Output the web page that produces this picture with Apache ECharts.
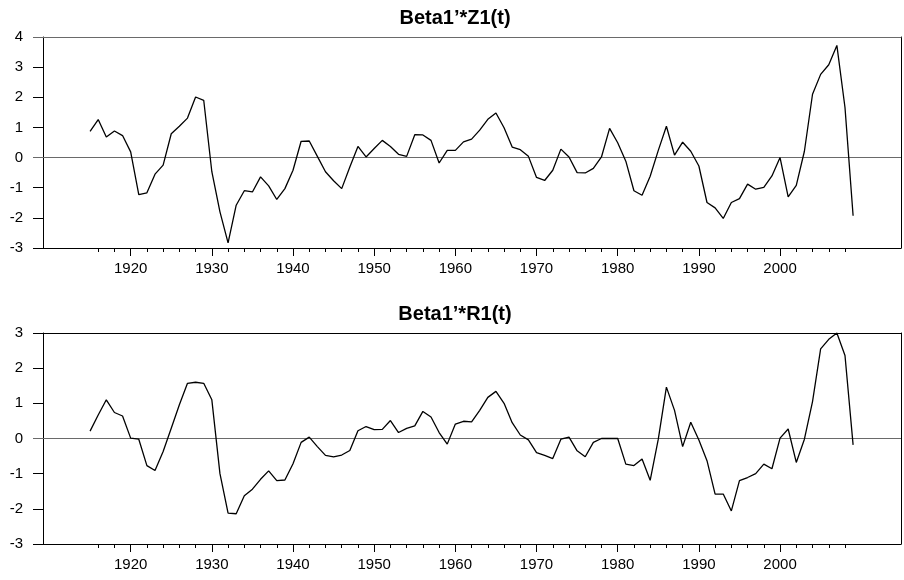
<!DOCTYPE html>
<html>
<head>
<meta charset="utf-8">
<script src="https://cdn.jsdelivr.net/npm/echarts@6/dist/echarts.min.js"></script>
<style>
  html, body { margin: 0; padding: 0; background: #fff; }
  #chart { width: 904px; height: 580px; }
</style>
</head>
<body>
<div id="chart"></div>
<script>
// Years of the two series
const years = [
  1915, 1916, 1917, 1918, 1919, 1920, 1921, 1922, 1923, 1924,
  1925, 1926, 1927, 1928, 1929, 1930, 1931, 1932, 1933, 1934,
  1935, 1936, 1937, 1938, 1939, 1940, 1941, 1942, 1943, 1944,
  1945, 1946, 1947, 1948, 1949, 1950, 1951, 1952, 1953, 1954,
  1955, 1956, 1957, 1958, 1959, 1960, 1961, 1962, 1963, 1964,
  1965, 1966, 1967, 1968, 1969, 1970, 1971, 1972, 1973, 1974,
  1975, 1976, 1977, 1978, 1979, 1980, 1981, 1982, 1983, 1984,
  1985, 1986, 1987, 1988, 1989, 1990, 1991, 1992, 1993, 1994,
  1995, 1996, 1997, 1998, 1999, 2000, 2001, 2002, 2003, 2004,
  2005, 2006, 2007, 2008, 2009
];

// Beta1'*Z1(t)
const z1Values = [
   0.87,  1.26,  0.68,  0.88,  0.73,  0.19, -1.23, -1.17, -0.55, -0.25,
   0.79,  1.04,  1.31,  2.01,  1.90, -0.47, -1.80, -2.83, -1.58, -1.10,
  -1.14, -0.64, -0.94, -1.39, -1.03, -0.42,  0.54,  0.55,  0.04, -0.47,
  -0.77, -1.03, -0.31,  0.37,  0.02,  0.30,  0.57,  0.37,  0.11,  0.04,
   0.76,  0.75,  0.57, -0.18,  0.24,  0.24,  0.52,  0.61,  0.91,  1.27,
   1.48,  0.99,  0.35,  0.26,  0.04, -0.66, -0.76, -0.42,  0.28,  0.02,
  -0.50, -0.51, -0.36,  0.02,  0.97,  0.49, -0.12, -1.10, -1.25, -0.62,
   0.24,  1.04,  0.08,  0.51,  0.21, -0.28, -1.49, -1.67, -2.02, -1.49,
  -1.36, -0.88, -1.05, -0.99, -0.61,  0.00, -1.30, -0.92,  0.21,  2.10,
   2.76,  3.08,  3.72,  1.66, -1.93
];

// Beta1'*R1(t)
const r1Values = [
   0.21,  0.67,  1.10,  0.74,  0.64,  0.01, -0.02, -0.77, -0.91, -0.37,
   0.29,  0.96,  1.57,  1.60,  1.57,  1.10, -1.00, -2.12, -2.14, -1.63,
  -1.44, -1.16, -0.92, -1.20, -1.18, -0.72, -0.11,  0.04, -0.23, -0.48,
  -0.52, -0.47, -0.34,  0.22,  0.34,  0.25,  0.26,  0.51,  0.17,  0.29,
   0.36,  0.77,  0.61,  0.17, -0.16,  0.41,  0.49,  0.47,  0.80,  1.17,
   1.34,  1.00,  0.45,  0.10, -0.04, -0.40, -0.48, -0.57, -0.02,  0.04,
  -0.35, -0.52, -0.11,  0.00,  0.00,  0.00, -0.73, -0.77, -0.58, -1.19,
  -0.02,  1.46,  0.80, -0.23,  0.46, -0.04, -0.63, -1.58, -1.58, -2.06,
  -1.20, -1.11, -1.00, -0.73, -0.86,  0.01,  0.27, -0.68, -0.02,  1.05,
   2.55,  2.82,  3.00,  2.36, -0.18
];

// Axis ticks and labels
const minorTickYears = [
  1916, 1918, 1920, 1922, 1924, 1926, 1928, 1930, 1932, 1934,
  1936, 1938, 1940, 1942, 1944, 1946, 1948, 1950, 1952, 1954,
  1956, 1958, 1960, 1962, 1964, 1966, 1968, 1970, 1972, 1974,
  1976, 1978, 1980, 1982, 1984, 1986, 1988, 1990, 1992, 1994,
  1996, 1998, 2000, 2002, 2004, 2006, 2008
];
const labelYears = [1920, 1930, 1940, 1950, 1960, 1970, 1980, 1990, 2000];
const topYRange = [-3, 4];
const bottomYRange = [-3, 3];
const titles = ['Beta1\u2019*Z1(t)', 'Beta1\u2019*R1(t)'];

const FONT = 'Liberation Sans, Arial, Helvetica, sans-serif';
const X_MIN = 1909.2, X_MAX = 2014.9;
const GRAY = '#6a6a6a';

const chart = echarts.init(document.getElementById('chart'), null, { renderer: 'canvas' });

const panels = [
  { top: 37, title: titles[0], titleTop: 3, values: z1Values, yRange: topYRange, topLine: GRAY },
  { top: 333, title: titles[1], titleTop: 299, values: r1Values, yRange: bottomYRange, topLine: '#000' }
];

const grid = [], xAxis = [], yAxis = [], series = [], title = [];

panels.forEach((p, g) => {
  grid.push({ left: 43, top: p.top, width: 858, height: 211 });

  title.push({
    text: p.title, left: 450, top: p.titleTop, textAlign: 'center',
    textStyle: { fontFamily: FONT, fontSize: 20, fontWeight: 'bold', color: '#000' }
  });

  const xBase = xAxis.length;
  // minor ticks every two years
  xAxis.push({
    type: 'value', gridIndex: g, min: X_MIN, max: X_MAX, position: 'bottom',
    axisLine: { show: true, onZero: false, lineStyle: { color: '#000', width: 1 } },
    axisTick: { show: true, length: 4, customValues: minorTickYears, lineStyle: { color: '#000' } },
    axisLabel: { show: false },
    splitLine: { show: false }
  });
  // decade ticks with labels
  xAxis.push({
    type: 'value', gridIndex: g, min: X_MIN, max: X_MAX, position: 'bottom',
    axisLine: { show: false, onZero: false },
    axisTick: { show: true, length: 8, customValues: labelYears, lineStyle: { color: '#000' } },
    axisLabel: {
      show: true, customValues: labelYears, margin: 13,
      fontFamily: FONT, fontSize: 15, color: '#000',
      formatter: v => String(v)
    },
    splitLine: { show: false }
  });
  // frame top edge
  xAxis.push({
    type: 'value', gridIndex: g, min: X_MIN, max: X_MAX, position: 'top',
    axisLine: { show: true, onZero: false, lineStyle: { color: p.topLine, width: 1 } },
    axisTick: { show: false }, axisLabel: { show: false }, splitLine: { show: false }
  });

  const ticks = [];
  for (let v = p.yRange[0]; v <= p.yRange[1]; v++) ticks.push(v);
  const blackTicks = ticks.filter(v => v !== 0 && !(g === 0 && v === p.yRange[1]));
  const grayTicks = g === 0 ? [0, p.yRange[1]] : [0];

  const yBase = yAxis.length;
  yAxis.push({
    type: 'value', gridIndex: g, min: p.yRange[0], max: p.yRange[1], interval: 1,
    position: 'left',
    axisLine: { show: true, onZero: false, lineStyle: { color: '#000', width: 1 } },
    axisTick: { show: true, length: 10, customValues: blackTicks, lineStyle: { color: '#000' } },
    axisLabel: { show: true, margin: 20, fontFamily: FONT, fontSize: 15, color: '#000' },
    splitLine: { show: false }
  });
  yAxis.push({
    type: 'value', gridIndex: g, min: p.yRange[0], max: p.yRange[1], interval: 1,
    position: 'left',
    axisLine: { show: false, onZero: false },
    axisTick: { show: true, length: 10, customValues: grayTicks, lineStyle: { color: GRAY } },
    axisLabel: { show: false },
    splitLine: { show: false }
  });
  // frame right edge
  yAxis.push({
    type: 'value', gridIndex: g, min: p.yRange[0], max: p.yRange[1], interval: 1,
    position: 'right',
    axisLine: { show: true, onZero: false, lineStyle: { color: '#000', width: 1 } },
    axisTick: { show: false }, axisLabel: { show: false }, splitLine: { show: false }
  });

  // zero line (and gray top line in the first panel), drawn beneath the data
  const refLines = [{ yAxis: 0 }];
  if (g === 0) refLines.push({ yAxis: p.yRange[1] });
  series.push({
    type: 'line', xAxisIndex: xBase, yAxisIndex: yBase, data: [],
    silent: true, z: 1,
    markLine: {
      silent: true, symbol: 'none', animation: false,
      label: { show: false },
      lineStyle: { color: GRAY, type: 'solid', width: 1.2 },
      data: refLines
    }
  });

  series.push({
    type: 'line',
    xAxisIndex: xBase,
    yAxisIndex: yBase,
    data: years.map((yr, i) => [yr, p.values[i]]),
    showSymbol: false,
    symbol: 'none',
    lineStyle: { color: '#000', width: 1.3 },
    silent: true,
    z: 5
  });
});

chart.setOption({
  animation: false,
  backgroundColor: '#fff',
  title, grid, xAxis, yAxis, series
});
</script>
</body>
</html>
